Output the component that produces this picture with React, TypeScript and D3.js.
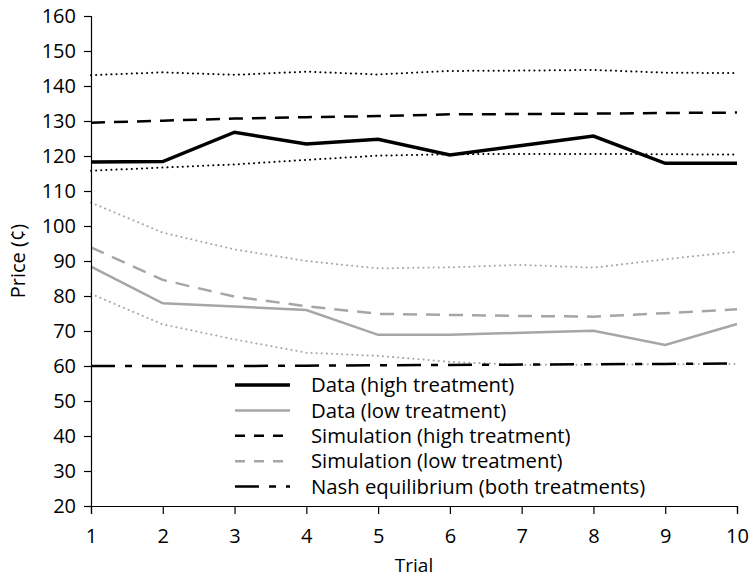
import React, { useEffect, useRef } from 'react';
import * as d3 from 'd3';

const trials = [1, 2, 3, 4, 5, 6, 7, 8, 9, 10];

// price in cents
const dataHigh = [118.3, 118.4, 126.8, 123.4, 124.8, 120.3, 123.0, 125.7, 117.9, 117.9];
const dataLow = [88.4, 77.9, 77.0, 76.0, 68.9, 68.9, 69.5, 70.1, 66.0, 72.0];
const simHigh = [129.5, 130.1, 130.7, 131.1, 131.4, 131.9, 132.0, 132.1, 132.3, 132.4];
const simLow = [93.9, 84.6, 79.8, 77.1, 74.9, 74.6, 74.3, 74.1, 75.1, 76.2];
const highUpper = [143.1, 143.9, 143.2, 144.1, 143.3, 144.3, 144.4, 144.6, 143.8, 143.7];
const highLower = [115.8, 116.7, 117.6, 118.9, 120.1, 120.5, 120.6, 120.6, 120.5, 120.4];
const lowUpper = [106.7, 98.1, 93.3, 90.0, 87.9, 88.2, 88.9, 88.1, 90.5, 92.7];
const lowLower = [80.6, 71.9, 67.6, 63.8, 62.9, 61.2, 60.3, 60.4, 60.5, 60.6];
const nash = [60.0, 60.0, 60.0, 60.1, 60.2, 60.3, 60.4, 60.5, 60.6, 60.7];

const yTicks = [20, 30, 40, 50, 60, 70, 80, 90, 100, 110, 120, 130, 140, 150, 160];

const legendItems = [
  { label: 'Data (high treatment)', color: '#000', width: 3.5, dash: null },
  { label: 'Data (low treatment)', color: '#a6a6a6', width: 2.5, dash: null },
  { label: 'Simulation (high treatment)', color: '#000', width: 2.5, dash: '10,9' },
  { label: 'Simulation (low treatment)', color: '#a6a6a6', width: 2.5, dash: '10,9' },
  { label: 'Nash equilibrium (both treatments)', color: '#000', width: 2.5, dash: '24,10,7,10' },
];

const FONT = '"Open Sans", sans-serif';

const App = () => {
  const ref = useRef<SVGSVGElement | null>(null);

  useEffect(() => {
    if (!ref.current) return;
    const svg = d3.select(ref.current);
    svg.selectAll('*').remove();

    const x = d3.scaleLinear().domain([1, 10]).range([91, 737]);
    const y = d3.scaleLinear().domain([20, 160]).range([506, 16]);

    const line = d3.line<number>()
      .x((d, i) => x(trials[i]))
      .y(d => y(d));

    const draw = (vals: number[], color: string, width: number, dash: string | null, cap = 'butt') => {
      svg.append('path')
        .datum(vals)
        .attr('d', line)
        .attr('fill', 'none')
        .attr('stroke', color)
        .attr('stroke-width', width)
        .attr('stroke-dasharray', dash)
        .attr('stroke-linecap', cap)
        .attr('stroke-linejoin', 'miter');
    };

    // confidence bands (dotted)
    draw(lowUpper, '#a6a6a6', 2, '0.1,5', 'round');
    draw(lowLower, '#a6a6a6', 2, '0.1,5', 'round');
    draw(highUpper, '#000', 2, '0.1,5', 'round');
    draw(highLower, '#000', 2, '0.1,5', 'round');

    draw(nash, '#000', 2.5, '24,10,7,10');
    draw(simLow, '#a6a6a6', 2.5, '14,9');
    draw(simHigh, '#000', 2.5, '14,9');
    draw(dataLow, '#a6a6a6', 2.5, null);
    draw(dataHigh, '#000', 3.5, null);

    // axes
    const yAxis = svg.append('g')
      .attr('transform', 'translate(91,0)')
      .call(d3.axisLeft(y).tickValues(yTicks).tickSize(7).tickPadding(8).tickFormat(d3.format('d')));
    const xAxis = svg.append('g')
      .attr('transform', 'translate(0,506)')
      .call(d3.axisBottom(x).tickValues(trials).tickSize(8).tickPadding(15).tickFormat(d3.format('d')));

    [yAxis, xAxis].forEach(g => {
      g.select('.domain').attr('stroke', '#000').attr('stroke-width', 1.2);
      g.selectAll('.tick line').attr('stroke', '#000').attr('stroke-width', 1.2);
      g.selectAll('.tick text')
        .attr('fill', '#000')
        .style('font-family', FONT)
        .style('font-size', '20px');
    });

    svg.append('text')
      .attr('transform', 'translate(25,261) rotate(-90)')
      .attr('text-anchor', 'middle')
      .style('font-family', FONT)
      .style('font-size', '20px')
      .text('Price (¢)');

    svg.append('text')
      .attr('x', 414)
      .attr('y', 572)
      .attr('text-anchor', 'middle')
      .style('font-family', FONT)
      .style('font-size', '19px')
      .text('Trial');

    // legend
    const legend = svg.append('g');
    legendItems.forEach((item, i) => {
      const ly = 385 + i * 25.4;
      legend.append('line')
        .attr('x1', 235).attr('x2', 290)
        .attr('y1', ly).attr('y2', ly)
        .attr('stroke', item.color)
        .attr('stroke-width', item.width)
        .attr('stroke-dasharray', item.dash);
      legend.append('text')
        .attr('x', 311)
        .attr('y', ly)
        .attr('dy', '0.35em')
        .style('font-family', FONT)
        .style('font-size', '20.3px')
        .text(item.label);
    });
  }, []);

  return (
    <svg
      ref={ref}
      width={749}
      height={578}
      style={{ position: 'absolute', left: 0, top: 0, background: '#fff' }}
    />
  );
};

export default App;
